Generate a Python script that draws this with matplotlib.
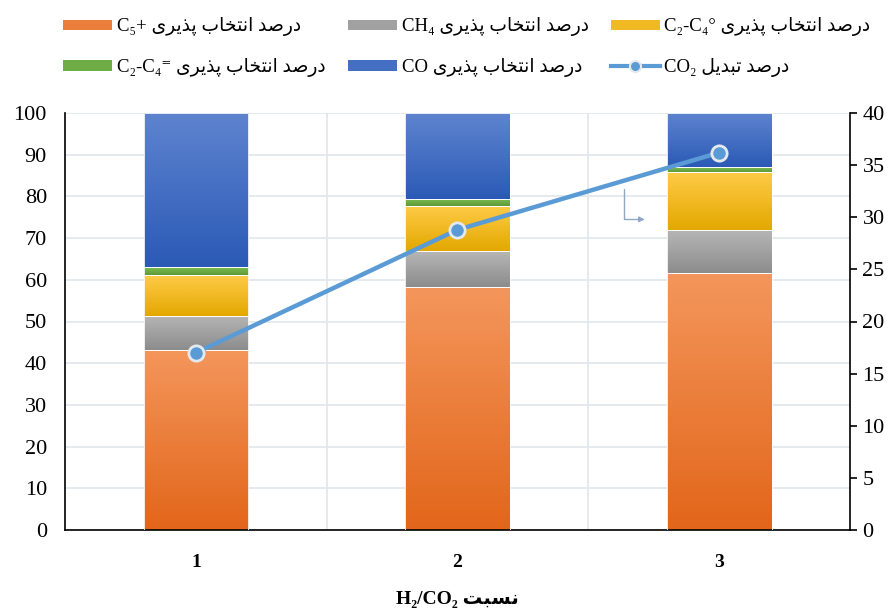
import numpy as np
import matplotlib.pyplot as plt
from matplotlib.colors import LinearSegmentedColormap
from matplotlib.patches import Patch
from matplotlib.lines import Line2D

plt.rcParams['font.family'] = ['Liberation Serif', 'DejaVu Sans']

# Data
ratios = ['1', '2', '3']
c5_plus = [43.2, 58.3, 61.7]
ch4 = [8.2, 8.6, 10.2]
c2c4_par = [9.8, 10.8, 14.0]
c2c4_ole = [1.8, 1.7, 1.1]
co = [37.0, 20.6, 13.0]
co2_conv = [17.0, 28.8, 36.2]

# Persian letters -> (isolated, final, initial, medial) presentation forms
FORMS = {
    'ا': ('\uFE8D', '\uFE8E', None, None),
    'ب': ('\uFE8F', '\uFE90', '\uFE91', '\uFE92'),
    'پ': ('\uFB56', '\uFB57', '\uFB58', '\uFB59'),
    'ت': ('\uFE95', '\uFE96', '\uFE97', '\uFE98'),
    'خ': ('\uFEA5', '\uFEA6', '\uFEA7', '\uFEA8'),
    'د': ('\uFEA9', '\uFEAA', None, None),
    'ذ': ('\uFEAB', '\uFEAC', None, None),
    'ر': ('\uFEAD', '\uFEAE', None, None),
    'س': ('\uFEB1', '\uFEB2', '\uFEB3', '\uFEB4'),
    'ص': ('\uFEB9', '\uFEBA', '\uFEBB', '\uFEBC'),
    'ل': ('\uFEDD', '\uFEDE', '\uFEDF', '\uFEE0'),
    'ن': ('\uFEE5', '\uFEE6', '\uFEE7', '\uFEE8'),
    'ی': ('\uFBFC', '\uFBFD', '\uFBFE', '\uFBFF'),
}


def fa(text):
    # join letters and reverse for left-to-right drawing
    out = []
    for i, ch in enumerate(text):
        if ch not in FORMS:
            out.append(ch)
            continue
        prev = text[i - 1] if i > 0 else ''
        nxt = text[i + 1] if i + 1 < len(text) else ''
        iso, fin, ini, med = FORMS[ch]
        j_prev = prev in FORMS and FORMS[prev][2] is not None
        j_next = nxt in FORMS and ini is not None
        if j_prev and j_next:
            out.append(med)
        elif j_prev:
            out.append(fin)
        elif j_next:
            out.append(ini)
        else:
            out.append(iso)
    return ''.join(reversed(out))


sel = fa('درصد انتخاب پذیری')
conv = fa('درصد تبدیل')

series = [
    (c5_plus, 'C₅+ ' + sel, '#F4965C', '#E2661A'),
    (ch4, 'CH₄ ' + sel, '#B6B6B6', '#8C8C8C'),
    (c2c4_par, 'C₂-C₄° ' + sel, '#FFCB48', '#E3A800'),
    (c2c4_ole, 'C₂-C₄⁼ ' + sel, '#7DBE52', '#5E9A38'),
    (co, 'CO ' + sel, '#5E84CF', '#2B5AB6'),
]

fig = plt.figure(figsize=(8.95, 6.12), dpi=100)
ax = fig.add_axes([65 / 895, 82 / 612, 785 / 895, 417 / 612])
x = np.arange(len(ratios))
width = 0.4

grad = np.linspace(0, 1, 128).reshape(-1, 1)
bottom = np.zeros(len(ratios))
handles = {}
for vals, label, top_c, bot_c in series:
    cmap = LinearSegmentedColormap.from_list(label, [bot_c, top_c])
    bars = ax.bar(x, vals, width, bottom=bottom, color='none',
                  edgecolor='white', linewidth=0.6, zorder=3)
    for b in bars:
        x0, y0 = b.get_x(), b.get_y()
        img = ax.imshow(grad, cmap=cmap, origin='lower', aspect='auto',
                        extent=(x0, x0 + b.get_width(), y0, y0 + b.get_height()),
                        interpolation='bilinear', zorder=2)
        img.set_clip_path(b)
    bottom = bottom + np.array(vals)
    mid = LinearSegmentedColormap.from_list('m', [bot_c, top_c])(0.5)
    handles[label] = Patch(facecolor=mid, edgecolor='none')

ax.set_xlim(-0.5, 2.5)
ax.set_ylim(0, 100)
ax.set_yticks(np.arange(0, 101, 10))
ax.set_xticks(x)
ax.set_xticklabels(ratios, fontweight='bold', fontsize=14)
ax.set_xticks([0.5, 1.5], minor=True)
ax.grid(axis='y', color='#E3E8EE', linewidth=1.3, zorder=0)
ax.grid(axis='x', which='minor', color='#E3E8EE', linewidth=1.3, zorder=0)
ax.set_axisbelow(True)
ax.tick_params(axis='y', length=0, pad=13, labelsize=16)
ax.tick_params(axis='x', which='both', length=0, pad=17)
for s in ['top', 'right']:
    ax.spines[s].set_visible(False)
for s in ['left', 'bottom']:
    ax.spines[s].set_color('black')
    ax.spines[s].set_linewidth(1.2)
ax.set_xlabel('H₂/CO₂ ' + fa('نسبت'), fontweight='bold', fontsize=14, labelpad=15)

ax2 = ax.twinx()
ax2.plot(x, co2_conv, color='#5B9BD5', linewidth=3.2, marker='o', markersize=11,
         markerfacecolor='#5B9BD5', markeredgecolor='#E4E9EF', markeredgewidth=2,
         solid_capstyle='round', zorder=5)
ax2.set_ylim(0, 40)
ax2.set_yticks(np.arange(0, 41, 5))
ax2.tick_params(axis='y', length=5, width=1.2, pad=4, labelsize=16)
for s in ['top', 'left', 'bottom']:
    ax2.spines[s].set_visible(False)
ax2.spines['right'].set_color('black')
ax2.spines['right'].set_linewidth(1.2)

# pointer showing the line belongs to the right axis
ax.annotate('', xy=(0.742, 0.745), xytext=(0.712, 0.825), xycoords='axes fraction',
            arrowprops=dict(arrowstyle='-|>', connectionstyle='angle,angleA=90,angleB=0,rad=0',
                            color='#8EA9C8', lw=1, mutation_scale=8), zorder=4)

line_h = Line2D([], [], color='#5B9BD5', linewidth=3, marker='o', markersize=8,
                markerfacecolor='#5B9BD5', markeredgecolor='#E4E9EF', markeredgewidth=1.5)
labels = [series[0][1], series[3][1], series[1][1], series[4][1], series[2][1],
          'CO₂ ' + conv]
hs = [handles[l] for l in labels[:5]] + [line_h]
fig.legend(hs, labels, ncol=3, loc='upper left', bbox_to_anchor=(56 / 895, 1 - 10 / 612),
           frameon=False, fontsize=13.5, handlelength=2.6, handleheight=0.5,
           handletextpad=0.25, columnspacing=1.2, labelspacing=1.15, borderaxespad=0)

fig.savefig('out.png', dpi=100)
